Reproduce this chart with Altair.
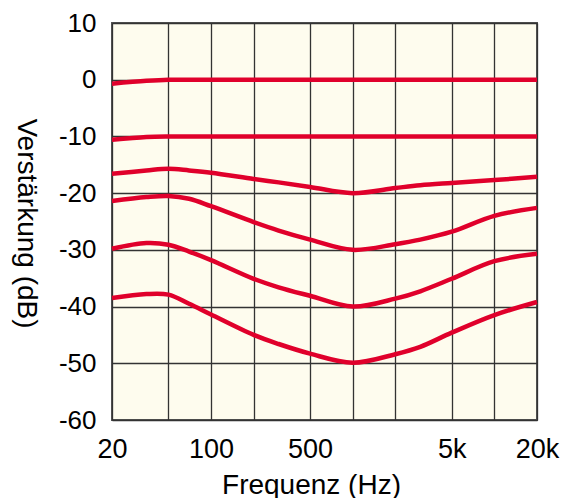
import altair as alt
import pandas as pd

freqs = [20, 35, 50, 70, 100, 200, 300, 500, 1000, 2000, 3000, 5000, 10000, 20000]
curve_0 = [-0.7, -0.2, 0, 0, 0, 0, 0, 0, 0, 0, 0, 0, 0, 0]
curve_10 = [-10.6, -10.1, -10, -10, -10, -10, -10, -10, -10, -10, -10, -10, -10, -10]
curve_20 = [-16.6, -16.0, -15.7, -16.0, -16.4, -17.5, -18.1, -18.9, -20.0, -19.1, -18.6, -18.2, -17.7, -17.1]
curve_30 = [-21.4, -20.7, -20.5, -21.0, -22.3, -25.1, -26.6, -28.2, -30.0, -29.0, -28.2, -26.8, -24.0, -22.6]
curve_40 = [-29.8, -28.8, -29.1, -30.3, -31.8, -35.1, -36.6, -38.1, -40.0, -38.6, -37.3, -35.1, -32.0, -30.7]
curve_50 = [-38.5, -37.8, -37.9, -39.5, -41.4, -45.0, -46.6, -48.3, -49.9, -48.4, -47.1, -44.6, -41.5, -39.2]

x_grid = [20, 50, 100, 200, 500, 1000, 2000, 5000, 10000, 20000]
y_ticks = [-60, -50, -40, -30, -20, -10, 0, 10]

rows = []
for name, vals in [("0", curve_0), ("10", curve_10), ("20", curve_20),
                   ("30", curve_30), ("40", curve_40), ("50", curve_50)]:
    for f, v in zip(freqs, vals):
        rows.append({"series": name, "f": f, "db": v})
df = pd.DataFrame(rows)

chart = alt.Chart(df).mark_line(
    color="#E0002B", strokeWidth=4.5, interpolate="catmull-rom", strokeCap="butt"
).encode(
    x=alt.X("f:Q", scale=alt.Scale(type="log", domain=[20, 20000], nice=False),
            axis=alt.Axis(values=x_grid, title="Frequenz (Hz)",
                          labelExpr="datum.value == 20 ? '20' : datum.value == 100 ? '100' : datum.value == 500 ? '500' : datum.value == 5000 ? '5k' : datum.value == 20000 ? '20k' : ''",
                          labelFontSize=27, labelPadding=16, titleFontSize=28,
                          titleX=199, titleY=73, titleBaseline="alphabetic", titleAlign="center")),
    y=alt.Y("db:Q", scale=alt.Scale(domain=[-60, 10], nice=False),
            axis=alt.Axis(values=y_ticks, title="Verstärkung (dB)",
                          labelExpr="'' + datum.value",
                          labelFontSize=26, labelPadding=16, titleFontSize=28,
                          titleAngle=90, titleX=-87, titleY=200,
                          titleAlign="center", titleBaseline="middle")),
    detail="series:N",
).properties(
    width=425, height=397,
    autosize=alt.AutoSizeParams(type="none"),
    padding={"left": 104, "top": 15, "right": 26, "bottom": 78},
    background="white",
).configure_view(
    fill="#FEFCEE", stroke="#555555", strokeWidth=2
).configure_axis(
    grid=True, gridColor="#333333", gridWidth=1.3, gridOpacity=1,
    domain=False, ticks=False, tickSize=0,
    labelFont="Liberation Sans", titleFont="Liberation Sans",
    labelColor="black", titleColor="black", titleFontWeight="normal",
    labelFlush=False, labelOverlap=False
)

chart.save("out.html", embed_options={"renderer": "svg", "actions": False})
